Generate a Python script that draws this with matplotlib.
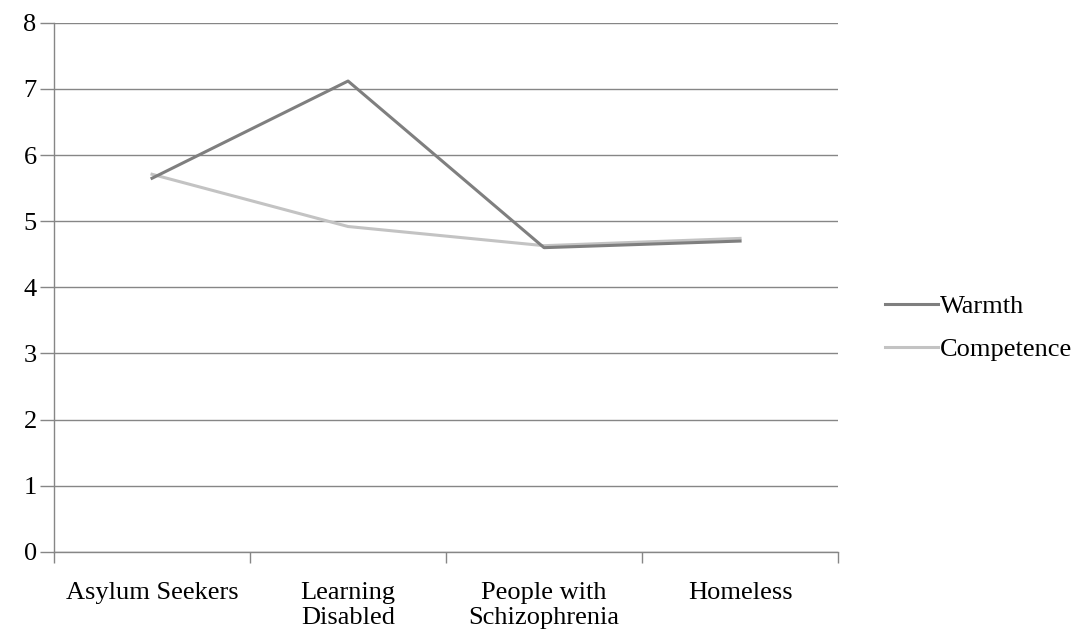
import numpy as np
import matplotlib.pyplot as plt

# data
groups = ['Asylum Seekers', 'Learning\nDisabled', 'People with\nSchizophrenia', 'Homeless']
warmth = [5.65, 7.12, 4.60, 4.70]
competence = [5.71, 4.92, 4.63, 4.74]

plt.rcParams['font.family'] = ['Liberation Serif', 'DejaVu Serif']

fig = plt.figure(figsize=(10.87, 6.35), dpi=100)
ax = fig.add_axes([0.0497, 0.131, 0.7213, 0.833])

x = np.arange(len(groups))
ax.plot(x, warmth, c='#7f7f7f', lw=2.2, label='Warmth', zorder=3)
ax.plot(x, competence, c='#c3c3c3', lw=2.2, label='Competence', zorder=2)

ax.set_xlim(-0.5, len(groups) - 0.5)
ax.set_ylim(0, 8)
ax.set_yticks(range(0, 9))
ax.yaxis.grid(True, color='#868686', lw=1)
ax.set_axisbelow(True)

# category boundaries as tick marks, labels at the centres
ax.set_xticks(np.arange(-0.5, len(groups)), minor=False)
ax.set_xticklabels([])
ax.set_xticks(x, minor=True)
ax.set_xticklabels(groups, minor=True, fontsize=19, linespacing=1.15)
ax.tick_params(axis='x', which='major', length=8, color='#868686', width=1)
ax.tick_params(axis='x', which='minor', length=0, pad=22)
ax.tick_params(axis='y', length=10, color='#868686', width=1, labelsize=19, pad=2.5)

for s in ['top', 'right']:
    ax.spines[s].set_visible(False)
for s in ['left', 'bottom']:
    ax.spines[s].set_color('#868686')
    ax.spines[s].set_linewidth(1)

leg = ax.legend(loc='center left', bbox_to_anchor=(0.814, 0.484), bbox_transform=fig.transFigure,
                frameon=False, fontsize=19, handlelength=2.0, handletextpad=0.1,
                labelspacing=0.75, borderpad=0, borderaxespad=0)

fig.savefig('out.png', dpi=100)
